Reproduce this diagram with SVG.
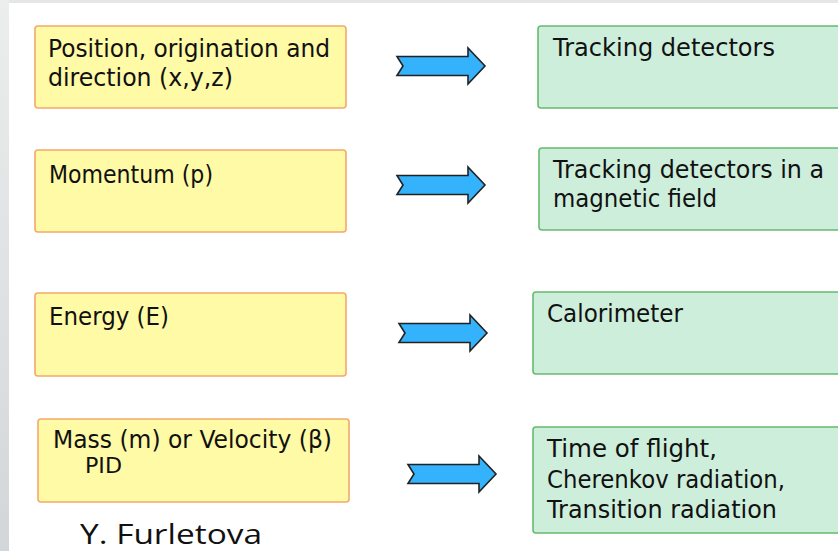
<svg xmlns="http://www.w3.org/2000/svg" width="838" height="551" viewBox="0 0 838 551">
<defs>
<linearGradient id="strip" x1="0" y1="0" x2="0" y2="1">
<stop offset="0" stop-color="#eceded"/>
<stop offset="1" stop-color="#d3d6d8"/>
</linearGradient>
<path id="arr" d="M0,-9.5 L71,-9.5 L71,-18 L88,0 L71,18 L71,9.5 L0,9.5 L6,0 Z"/>
</defs>
<style>
.y{fill:#fffaa6;stroke:#f4a96a;stroke-width:1.6}
.g{fill:#ceeedc;stroke:#66bb6e;stroke-width:1.6}
.t{font-family:"DejaVu Sans","Noto Sans",sans-serif;font-size:25px;fill:#111}
.s{font-size:22px}
.a{fill:#35b2fc;stroke:#222;stroke-width:1.6;stroke-linejoin:miter}
.sig{font-family:"Open Sans","Noto Sans",sans-serif;font-size:28px;fill:#111}
</style>
<rect x="0" y="0" width="838" height="551" fill="#ffffff"/>
<rect x="0" y="0" width="838" height="3" fill="#e5e6e7"/>
<rect x="0" y="0" width="9" height="551" fill="url(#strip)"/>

<g id="n-position">
<rect class="y" x="35" y="26" width="311" height="82" rx="3"/>
<text class="t" x="48" y="57" textLength="282" lengthAdjust="spacingAndGlyphs">Position, origination  and</text>
<text class="t" x="48" y="86" textLength="185" lengthAdjust="spacingAndGlyphs">direction (x,y,z)</text>
</g>
<g id="n-momentum">
<rect class="y" x="35" y="150" width="311" height="82" rx="3"/>
<text class="t" x="49" y="183" textLength="164" lengthAdjust="spacingAndGlyphs">Momentum (p)</text>
</g>
<g id="n-energy">
<rect class="y" x="35" y="293" width="311" height="83" rx="3"/>
<text class="t" x="49" y="325" textLength="120" lengthAdjust="spacingAndGlyphs">Energy (E)</text>
</g>
<g id="n-mass">
<rect class="y" x="38" y="419" width="311" height="83" rx="3"/>
<text class="t" x="53" y="448" textLength="279" lengthAdjust="spacingAndGlyphs">Mass (m) or Velocity (β)</text>
<text class="t s" x="85" y="473" textLength="37" lengthAdjust="spacingAndGlyphs">PID</text>
</g>

<g id="n-tracking">
<rect class="g" x="538" y="26" width="310" height="82" rx="3"/>
<text class="t" x="553" y="56" textLength="222" lengthAdjust="spacingAndGlyphs">Tracking detectors</text>
</g>
<g id="n-tracking-mag">
<rect class="g" x="539" y="148" width="310" height="82" rx="3"/>
<text class="t" x="553" y="178" textLength="271" lengthAdjust="spacingAndGlyphs">Tracking detectors in a</text>
<text class="t" x="553" y="207" textLength="164" lengthAdjust="spacingAndGlyphs">magnetic field</text>
</g>
<g id="n-calorimeter">
<rect class="g" x="533" y="292" width="315" height="82" rx="3"/>
<text class="t" x="547" y="322" textLength="136" lengthAdjust="spacingAndGlyphs">Calorimeter</text>
</g>
<g id="n-pid">
<rect class="g" x="533" y="427" width="315" height="106" rx="3"/>
<text class="t" x="547" y="457" textLength="170" lengthAdjust="spacingAndGlyphs">Time of flight,</text>
<text class="t" x="547" y="488" textLength="238" lengthAdjust="spacingAndGlyphs">Cherenkov radiation,</text>
<text class="t" x="547" y="518" textLength="230" lengthAdjust="spacingAndGlyphs">Transition radiation</text>
</g>

<g id="connectors">
<use href="#arr" class="a" transform="translate(397,66)"/>
<use href="#arr" class="a" transform="translate(397,185)"/>
<use href="#arr" class="a" transform="translate(399,333)"/>
<use href="#arr" class="a" transform="translate(408,474)"/>
</g>

<text class="sig" x="80" y="544" textLength="182" lengthAdjust="spacingAndGlyphs">Y. Furletova</text>
</svg>
